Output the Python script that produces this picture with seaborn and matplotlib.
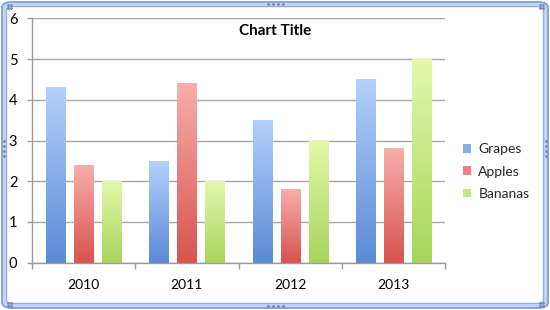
import numpy as np
import pandas as pd
import matplotlib
matplotlib.use("Agg")
import matplotlib.pyplot as plt
import seaborn as sns
from matplotlib.patches import FancyBboxPatch, Patch
from matplotlib.colors import LinearSegmentedColormap

# ---- data ----
years = ["2010", "2011", "2012", "2013"]
series = ["Grapes", "Apples", "Bananas"]
grapes = [4.3, 2.5, 3.5, 4.5]
apples = [2.4, 4.4, 1.8, 2.8]
bananas = [2.0, 2.0, 3.0, 5.0]
y_ticks = [0, 1, 2, 3, 4, 5, 6]
title = "Chart Title"

# gradient colours (top, bottom) per series
grad = {
    "Grapes": ("#b4d0fb", "#5a8ad7"),
    "Apples": ("#f7aeac", "#d8534e"),
    "Bananas": ("#e4f8ac", "#a5d55a"),
}

df = pd.DataFrame({
    "Year": years * 3,
    "Series": ["Grapes"] * 4 + ["Apples"] * 4 + ["Bananas"] * 4,
    "Value": grapes + apples + bananas,
})

sns.set_theme(style="white")
plt.rcParams["font.family"] = ["Lato", "DejaVu Sans"]

W, H = 550, 310
fig = plt.figure(figsize=(W / 100, H / 100), dpi=100)

# ---- chart frame (selection border) ----
outer = FancyBboxPatch((2 / W, 2 / H), (W - 4) / W, (H - 4) / H,
                       boxstyle="round,pad=0,rounding_size=0.018",
                       transform=fig.transFigure, facecolor="#c4d5f4",
                       edgecolor="#809fdc", linewidth=1.3, zorder=-2)
inner = FancyBboxPatch((6.5 / W, 6.5 / H), (W - 13) / W, (H - 13) / H,
                       boxstyle="round,pad=0,rounding_size=0.012",
                       transform=fig.transFigure, facecolor="white",
                       edgecolor="#93aee4", linewidth=1.0, zorder=-1)
fig.patches.extend([outer, inner])

# handle dots
dots = []
for (cx, cy) in [(9, 6), (541, 6), (9, 304), (541, 304)]:
    dots += [(cx - 1.5, cy - 1.5), (cx + 1.5, cy - 1.5), (cx - 1.5, cy + 1.5), (cx + 1.5, cy + 1.5)]
for k in range(4):
    dots += [(4, 141 + k * 5), (546, 141 + k * 5)]
    dots += [(268 + k * 5, 4), (268 + k * 5, 306)]
dx = [d[0] / W for d in dots]
dy = [1 - d[1] / H for d in dots]
fig.add_artist(plt.Line2D(dx, dy, linestyle="none", marker="o", markersize=1.0,
                          color="#6f88b8", transform=fig.transFigure, zorder=3))

# ---- axes ----
ax = fig.add_axes([32 / W, 1 - 262.7 / H, (445 - 32) / W, (262.7 - 18.3) / H])
ax.set_zorder(1)
ax.set_facecolor("none")
sns.barplot(data=df, x="Year", y="Value", hue="Series", order=years,
            hue_order=series, width=0.813, gap=0.32, ax=ax,
            palette=[grad[s][1] for s in series], legend=False,
            saturation=1, errorbar=None)

ax.set_ylim(0, 6)
ax.set_xlim(-0.5, 3.5)

# gradient fill for each bar
bars = [p for p in ax.patches if p.get_height() > 0]
for p in bars:
    fc = p.get_facecolor()
    s = None
    for name in series:
        if np.allclose(fc[:3], matplotlib.colors.to_rgb(grad[name][1]), atol=0.01):
            s = name
    top, bot = grad[s]
    cmap = LinearSegmentedColormap.from_list("g", [bot, top])
    x0, w, h = p.get_x(), p.get_width(), p.get_height()
    ax.imshow(np.linspace(0, 1, 256).reshape(-1, 1), cmap=cmap, origin="lower",
              extent=[x0, x0 + w, 0, h], aspect="auto", zorder=2,
              interpolation="nearest")
    p.set_facecolor("none")
    p.set_edgecolor("none")
    p.set_zorder(3)
ax.set_ylim(0, 6)
ax.set_xlim(-0.5, 3.5)
ax.set_aspect("auto")

# grid & spines
ax.set_yticks(y_ticks)
ax.set_yticklabels([str(t) for t in y_ticks])
ax.yaxis.grid(True, color="#a6a6a6", linewidth=1.0, zorder=0)
ax.set_axisbelow(True)
for side in ["top", "right"]:
    ax.spines[side].set_visible(False)
for side in ["left", "bottom"]:
    ax.spines[side].set_color("#9a9a9a")
    ax.spines[side].set_linewidth(1.0)

ax.tick_params(axis="y", which="major", direction="out", length=3.5, width=1,
               color="#9a9a9a", pad=7, labelsize=10.5, labelcolor="black", left=True)
ax.set_xticks(range(len(years)))
ax.set_xticklabels(years)
ax.set_xticks([-0.5, 0.5, 1.5, 2.5, 3.5], minor=True)
ax.tick_params(axis="x", which="major", length=0, pad=12, labelsize=10, labelcolor="black")
ax.tick_params(axis="x", which="minor", direction="out", length=4, width=1,
               color="#9a9a9a", bottom=True)
ax.set_xlabel("")
ax.set_ylabel("")

# title
fig.text(275 / W, 1 - 31 / H, title, ha="center", va="center",
         fontsize=11, fontweight="bold", color="black")

# legend
handles = [Patch(facecolor=matplotlib.colors.to_hex(
    np.mean([matplotlib.colors.to_rgb(grad[s][0]), matplotlib.colors.to_rgb(grad[s][1])], axis=0)),
    edgecolor="none", label=s) for s in series]
fig.legend(handles=handles, loc="center left", bbox_to_anchor=(463 / W, 1 - 171.5 / H),
           frameon=False, fontsize=10, handlelength=0.6, handleheight=0.6,
           handletextpad=0.5, labelspacing=0.75, borderpad=0, borderaxespad=0)

fig.savefig("out.png", dpi=100)
